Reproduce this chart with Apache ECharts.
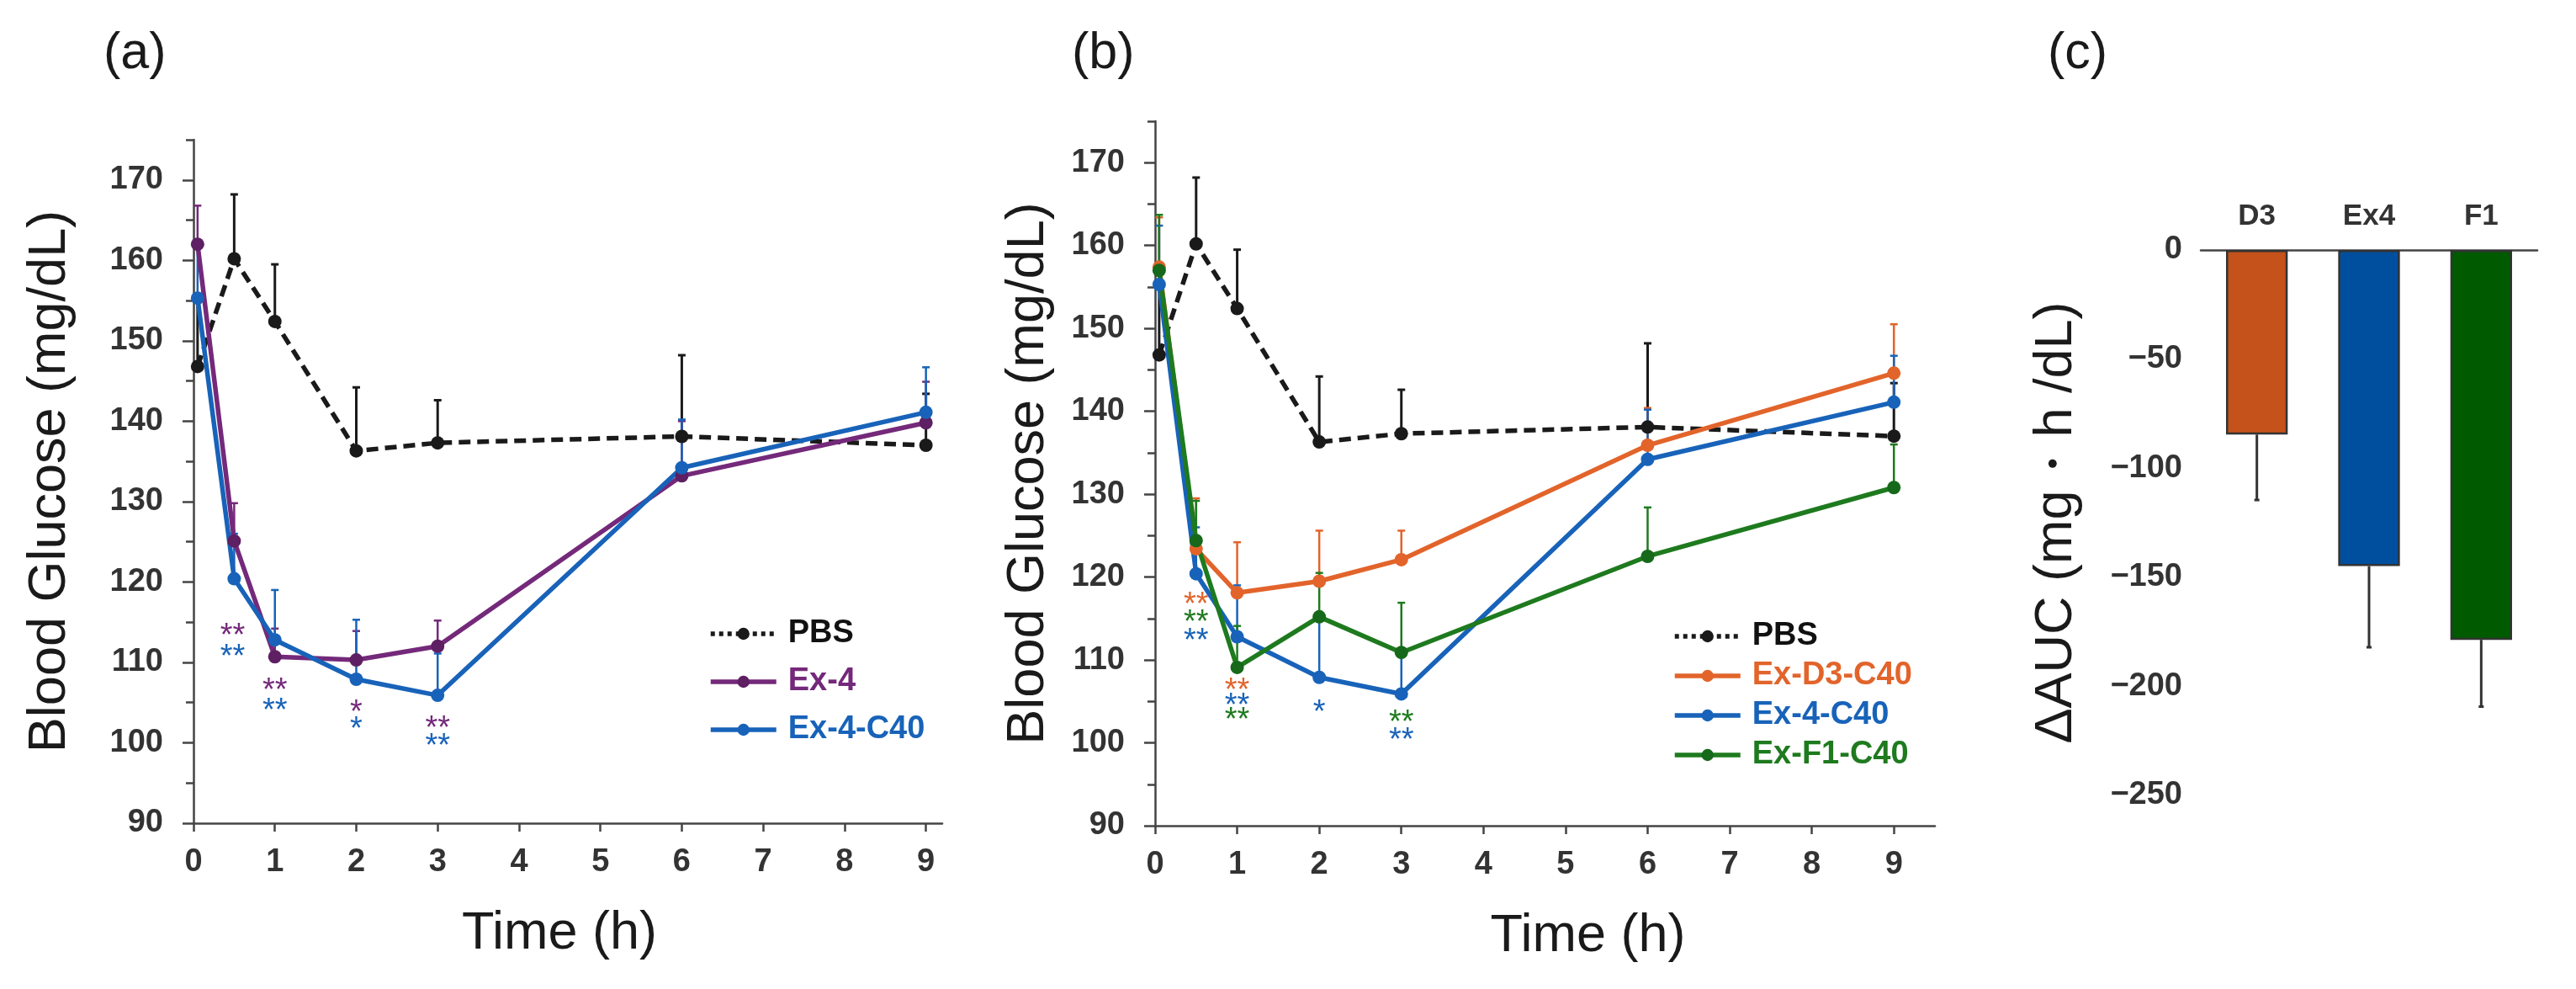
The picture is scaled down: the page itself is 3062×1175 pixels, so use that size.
<!DOCTYPE html>
<html>
<head>
<meta charset="utf-8">
<script src="https://cdn.jsdelivr.net/npm/echarts@6/dist/echarts.min.js"></script>
<style>
  html, body { margin: 0; padding: 0; background: #fff; }
  #chart { width: 3062px; height: 1175px; }
</style>
</head>
<body>
<div id="chart"></div>
<script>
// ===== Data =====
const times = [0.05, 0.5, 1, 2, 3, 6, 9];

const pbsMean  = [146.8, 160.2, 152.4, 136.3, 137.3, 138.1, 137.0];
const pbsSd    = [8.0, 8.0, 7.1, 7.9, 5.3, 10.1, 6.4];
const ex4Mean  = [162.0, 125.1, 110.7, 110.3, 112.0, 133.2, 139.8];
const ex4Sd    = [4.8, 4.7, 3.5, 3.6, 3.2, 6.8, 5.1];
const ex4cMean = [155.3, 120.4, 112.8, 107.9, 105.9, 134.2, 141.1];
const ex4cSd   = [7.1, 5.6, 6.2, 7.4, 5.2, 6.0, 5.6];
const d3Mean   = [157.4, 123.4, 118.1, 119.5, 122.1, 135.9, 144.6];
const d3Sd     = [6.0, 6.1, 6.1, 6.1, 3.5, 4.5, 5.9];
const f1Mean   = [157.0, 124.4, 109.1, 115.2, 110.9, 122.5, 130.8];
const f1Sd     = [6.7, 4.8, 5.0, 5.3, 6.0, 5.9, 5.2];

// significance marks: [time, glucose level where the mark sits, text, group]
const starsA = [
  [0.48, 114.0, '**', 'ex4'], [0.48, 111.4, '**', 'ex4c'],
  [1.0, 107.2, '**', 'ex4'], [1.0, 104.7, '**', 'ex4c'],
  [2.0, 104.5, '*', 'ex4'], [2.0, 102.4, '*', 'ex4c'],
  [3.0, 102.5, '**', 'ex4'], [3.0, 100.3, '**', 'ex4c']
];
const starsB = [
  [0.5, 117.4, '**', 'd3'], [0.5, 115.2, '**', 'f1'], [0.5, 113.0, '**', 'ex4c'],
  [1.0, 107.0, '**', 'd3'], [1.0, 105.2, '**', 'ex4c'], [1.0, 103.5, '**', 'f1'],
  [2.0, 104.4, '*', 'ex4c'],
  [3.0, 103.2, '**', 'f1'], [3.0, 101.0, '**', 'ex4c']
];

const aucCats = ['D3', 'Ex4', 'F1'];
const aucMean = [-84.6, -144.9, -178.7];
const aucSd   = [30.0, 37.2, 30.6];

// tick labels
const xTicks = [0, 1, 2, 3, 4, 5, 6, 7, 8, 9];
const yMajor = [90, 100, 110, 120, 130, 140, 150, 160, 170];
const yMinor = [95, 105, 115, 125, 135, 145, 155, 165, 175];

// ===== Style =====
const FONT = 'Arial, "Liberation Sans", Helvetica, sans-serif';
const AXIS = '#444';
const C = {
  pbs: '#1a1a1a', ex4: '#74297a', ex4c: '#1863b9', d3: '#e2642b', f1: '#1e7a1e'
};
const MARK = {
  pbs: '#1a1a1a', ex4: '#5e1f63', ex4c: '#1863b9', d3: '#e2642b', f1: '#16691a'
};
const BAR = ['#c4521a', '#004f9f', '#005a00'];

// ===== Axes =====
function timeAxis(gridIndex, max, shiftName) {
  return {
    type: 'value', gridIndex, min: 0, max,
    name: 'Time (h)', nameLocation: 'middle', nameGap: 100,
    nameTextStyle: {
      fontSize: 63, fontFamily: FONT, color: '#1a1a1a', lineHeight: 63,
      padding: shiftName > 0 ? [0, 0, 0, 2 * shiftName] : [0, -2 * shiftName, 0, 0]
    },
    axisLine: { lineStyle: { color: AXIS, width: 2.5 } },
    axisTick: { customValues: xTicks, length: 10, lineStyle: { color: AXIS, width: 2.5 } },
    axisLabel: {
      customValues: xTicks, margin: 28, fontSize: 38, fontWeight: 'bold',
      fontFamily: FONT, color: '#333'
    },
    splitLine: { show: false }
  };
}

function glucoseAxis(gridIndex, nameGap) {
  return {
    type: 'value', gridIndex, position: 'left', min: 90, max: 175,
    name: 'Blood Glucose (mg/dL)', nameLocation: 'middle', nameGap,
    nameTextStyle: { fontSize: 63, fontFamily: FONT, color: '#1a1a1a' },
    axisLine: { lineStyle: { color: AXIS, width: 2.5 } },
    axisTick: { customValues: yMajor, length: 13, lineStyle: { color: AXIS, width: 2.5 } },
    axisLabel: {
      customValues: yMajor, margin: 36, fontSize: 38, fontWeight: 'bold',
      fontFamily: FONT, color: '#333',
      formatter: v => (v % 10 === 0 && v <= 170 ? String(v) : '')
    },
    splitLine: { show: false }
  };
}

function minorAxis(gridIndex) {
  return {
    type: 'value', gridIndex, position: 'left', min: 90, max: 175,
    axisLine: { show: false },
    axisTick: { customValues: yMinor, length: 9, lineStyle: { color: AXIS, width: 2.5 } },
    axisLabel: { show: false },
    splitLine: { show: false }
  };
}

// ===== Series builders =====
function lineSeries(name, key, vals, xi, yi, dashed) {
  return {
    type: 'line', name, xAxisIndex: xi, yAxisIndex: yi,
    data: times.map((t, i) => [t, vals[i]]),
    symbol: 'circle', symbolSize: 16, showSymbol: true,
    lineStyle: { color: C[key], width: 5.5, type: dashed ? [14, 8] : 'solid' },
    itemStyle: { color: MARK[key] },
    z: 3, animation: false
  };
}

function errSeries(key, vals, sds, xi, yi) {
  const color = C[key];
  const w = key === 'pbs' ? 3 : 2.5;
  return {
    type: 'custom', xAxisIndex: xi, yAxisIndex: yi, z: 2, animation: false,
    data: times.map((t, i) => [t, vals[i], sds[i]]),
    encode: { x: 0, y: 1 },
    renderItem: (params, api) => {
      const p0 = api.coord([api.value(0), api.value(1)]);
      const p1 = api.coord([api.value(0), api.value(1) + api.value(2)]);
      return {
        type: 'group',
        children: [
          { type: 'line', shape: { x1: p0[0], y1: p0[1], x2: p1[0], y2: p1[1] },
            style: { stroke: color, lineWidth: w } },
          { type: 'line', shape: { x1: p1[0] - 4.5, y1: p1[1], x2: p1[0] + 4.5, y2: p1[1] },
            style: { stroke: color, lineWidth: w } }
        ]
      };
    }
  };
}

function starSeries(stars, xi, yi) {
  return {
    type: 'custom', xAxisIndex: xi, yAxisIndex: yi, z: 4, animation: false,
    data: stars.map(s => [s[0], s[1]]),
    encode: { x: 0, y: 1 },
    renderItem: (params, api) => {
      const s = stars[params.dataIndex];
      const p = api.coord([api.value(0), api.value(1)]);
      return {
        type: 'text', x: p[0], y: p[1] + 8,
        style: {
          text: s[2], fill: C[s[3]], fontSize: 38, fontFamily: FONT,
          align: 'center', verticalAlign: 'middle'
        }
      };
    }
  };
}

// ===== Chart =====
const chart = echarts.init(document.getElementById('chart'));

const legendText = { fontSize: 38, fontWeight: 'bold', fontFamily: FONT, padding: [0, 0, 0, 9] };
const legendLine = { width: 5.5 };
const pbsLegend = { name: 'PBS', textStyle: { color: '#111' }, lineStyle: { type: [5, 5], width: 5.5 } };

chart.setOption({
  backgroundColor: '#fff',
  animation: false,
  title: [
    { text: '(a)', left: 123, top: 34, padding: 0,
      textStyle: { fontSize: 61, fontWeight: 'normal', fontFamily: FONT, color: '#1a1a1a' } },
    { text: '(b)', left: 1274, top: 34, padding: 0,
      textStyle: { fontSize: 61, fontWeight: 'normal', fontFamily: FONT, color: '#1a1a1a' } },
    { text: '(c)', left: 2434, top: 34, padding: 0,
      textStyle: { fontSize: 61, fontWeight: 'normal', fontFamily: FONT, color: '#1a1a1a' } }
  ],
  legend: [
    {
      orient: 'vertical', left: 842, top: 734, padding: 0,
      itemWidth: 78, itemHeight: 18, itemGap: 19, textStyle: legendText, lineStyle: legendLine,
      data: [pbsLegend,
        { name: 'Ex-4', textStyle: { color: C.ex4 } },
        { name: 'Ex-4-C40', textStyle: { color: C.ex4c } }]
    },
    {
      orient: 'vertical', left: 1988, top: 737, padding: 0,
      itemWidth: 78, itemHeight: 18, itemGap: 9, textStyle: legendText, lineStyle: legendLine,
      data: [pbsLegend,
        { name: 'Ex-D3-C40', textStyle: { color: C.d3 } },
        { name: 'Ex-4-C40', textStyle: { color: C.ex4c } },
        { name: 'Ex-F1-C40', textStyle: { color: C.f1 } }]
    }
  ],
  grid: [
    { left: 230, top: 166, width: 890, height: 812 },
    { left: 1373, top: 144, width: 927, height: 837 },
    { left: 2616, top: 297, width: 400, height: 648 }
  ],
  xAxis: [
    timeAxis(0, 9.2, -10),
    timeAxis(1, 9.5, 51),
    {
      type: 'category', gridIndex: 2, position: 'top', data: aucCats,
      axisLine: { lineStyle: { color: AXIS, width: 2.5 } },
      axisTick: { length: 7, alignWithLabel: false, lineStyle: { color: AXIS, width: 2.5 } },
      axisLabel: { margin: 22, fontSize: 35, fontWeight: 'bold', fontFamily: FONT, color: '#333' },
      splitLine: { show: false }
    }
  ],
  yAxis: [
    glucoseAxis(0, 139),
    minorAxis(0),
    glucoseAxis(1, 119),
    minorAxis(1),
    {
      type: 'value', gridIndex: 2, min: -250, max: 0, interval: 50,
      name: 'ΔAUC (mg・h /dL)', nameLocation: 'middle', nameGap: 140,
      nameTextStyle: { fontSize: 63, fontFamily: FONT, color: '#1a1a1a' },
      axisLine: { lineStyle: { color: AXIS, width: 2.5 } },
      axisTick: { length: 11, lineStyle: { color: AXIS, width: 2.5 } },
      axisLabel: {
        margin: 22, fontSize: 38, fontWeight: 'bold', fontFamily: FONT, color: '#333',
        formatter: v => String(v).replace('-', '\u2212')
      },
      splitLine: { show: false }
    }
  ],
  series: [
    // panel (a)
    lineSeries('PBS', 'pbs', pbsMean, 0, 0, true),
    lineSeries('Ex-4', 'ex4', ex4Mean, 0, 0, false),
    lineSeries('Ex-4-C40', 'ex4c', ex4cMean, 0, 0, false),
    errSeries('pbs', pbsMean, pbsSd, 0, 0),
    errSeries('ex4', ex4Mean, ex4Sd, 0, 0),
    errSeries('ex4c', ex4cMean, ex4cSd, 0, 0),
    starSeries(starsA, 0, 0),
    // panel (b)
    lineSeries('PBS', 'pbs', pbsMean, 1, 2, true),
    lineSeries('Ex-D3-C40', 'd3', d3Mean, 1, 2, false),
    lineSeries('Ex-4-C40', 'ex4c', ex4cMean, 1, 2, false),
    lineSeries('Ex-F1-C40', 'f1', f1Mean, 1, 2, false),
    errSeries('pbs', pbsMean, pbsSd, 1, 2),
    errSeries('d3', d3Mean, d3Sd, 1, 2),
    errSeries('ex4c', ex4cMean, ex4cSd, 1, 2),
    errSeries('f1', f1Mean, f1Sd, 1, 2),
    starSeries(starsB, 1, 2),
    // panel (c)
    {
      type: 'bar', xAxisIndex: 2, yAxisIndex: 4, barWidth: '55%', z: 2,
      data: aucMean.map((v, i) => ({
        value: v, itemStyle: { color: BAR[i], borderColor: '#333', borderWidth: 2.5 }
      }))
    },
    {
      type: 'custom', xAxisIndex: 2, yAxisIndex: 4, z: 3,
      data: aucMean.map((v, i) => [i, v, aucSd[i]]),
      encode: { x: 0, y: 1 },
      renderItem: (params, api) => {
        const p0 = api.coord([api.value(0), api.value(1)]);
        const p1 = api.coord([api.value(0), api.value(1) - api.value(2)]);
        return {
          type: 'group',
          children: [
            { type: 'line', shape: { x1: p0[0], y1: p0[1], x2: p1[0], y2: p1[1] },
              style: { stroke: '#333', lineWidth: 3 } },
            { type: 'line', shape: { x1: p1[0] - 3, y1: p1[1], x2: p1[0] + 3, y2: p1[1] },
              style: { stroke: '#333', lineWidth: 3 } }
          ]
        };
      }
    }
  ]
});
</script>
</body>
</html>
